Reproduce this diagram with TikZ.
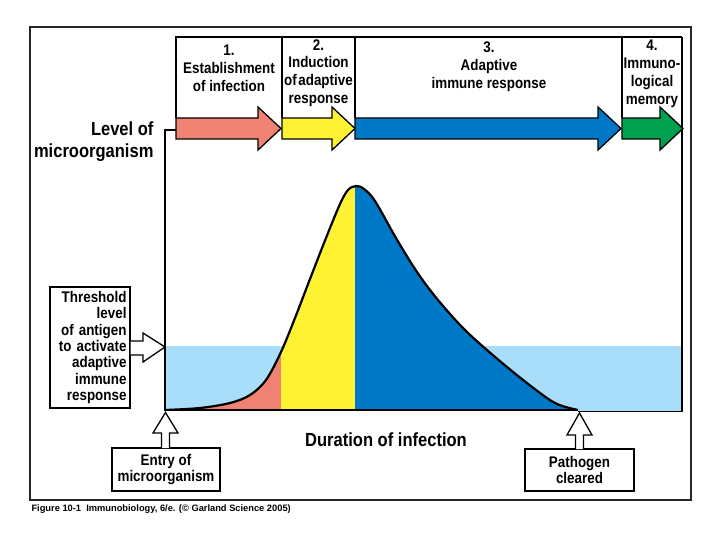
\documentclass[tikz,border=0pt]{standalone}
\usepackage{fontspec}
\setmainfont{Liberation Sans}[FakeStretch=0.87]
\newfontfamily\capfont{Liberation Sans}
\definecolor{cpink}{RGB}{240,130,115}
\definecolor{cyellow}{RGB}{255,242,50}
\definecolor{cblue}{RGB}{0,120,200}
\definecolor{cgreen}{RGB}{0,160,80}
\definecolor{cband}{RGB}{168,222,250}
\newcommand\phasearrow[4]{%
  \filldraw[fill=#4,draw=black,line width=1.3pt,line join=miter]
    (#1,118) -- (#2,118) -- (#2,107) -- (#3,128.5) -- (#2,150) -- (#2,139) -- (#1,139) -- cycle;}
\newcommand\curvepts{plot[smooth,tension=0.55] coordinates {(165,410) (200,408) (230,403) (250,395) (266,380) (281,352) (295,318) (310,279) (326,238) (340,204) (348,190) (356,186) (364,189) (375,201) (396,238) (417,272) (438,300) (466,331) (501,362) (536,390) (557,404) (578,410)}}
\tikzset{
  phase/.style={align=center,font=\bfseries\fontsize{15.4}{17.8}\selectfont},
  lbl/.style={font=\bfseries\fontsize{15.4}{16.4}\selectfont},
  box/.style={draw,line width=1.3pt,fill=white},
  openarrow/.style={draw,line width=1.3pt,fill=white,line join=miter}
}
\begin{document}
\begin{tikzpicture}[x=1pt,y=-1pt]
\useasboundingbox (0,0) rectangle (720,540);
% outer frame
\draw[line width=1.5pt,black!85] (30,27) rectangle (691,500);
% threshold band
\fill[cband] (165,346) rectangle (682,411);
% colored regions under curve
\begin{scope}
  \clip (165,0) rectangle (281,420);
  \fill[cpink] \curvepts -- (165,410) -- cycle;
\end{scope}
\begin{scope}
  \clip (281,0) rectangle (355,420);
  \fill[cyellow] \curvepts -- (165,410) -- cycle;
\end{scope}
\begin{scope}
  \clip (355,0) rectangle (682,420);
  \fill[cblue] \curvepts -- (165,410) -- cycle;
\end{scope}
\draw[line width=2.2pt,line join=round] \curvepts;
\draw[line width=2.2pt] (165,410) -- (578,410);
% band border right and bottom
\draw[line width=1.2pt] (578,411.5) -- (682,411.5) -- (682,37);
% axis and bracket
\draw[line width=1.3pt] (176,130) -- (165,130) -- (165,411);
% phase boxes
\draw[line width=1.3pt] (176,118) -- (176,37) -- (682,37);
\draw[line width=1.3pt] (282,37) -- (282,118);
\draw[line width=1.3pt] (355,37) -- (355,118);
\draw[line width=1.3pt] (622,37) -- (622,118);
\phasearrow{176}{258}{281}{cpink}
\phasearrow{282}{332}{355}{cyellow}
\phasearrow{355}{598}{621}{cblue}
\phasearrow{622}{660}{683}{cgreen}
\node[phase] (t1) at (229,68.5) {1.\\Establishment\\of infection};
\node[phase] (t2) at (318.5,73) {2.\\Induction\\of\hspace{0.1em}adaptive\\response};
\node[phase] (t3) at (489,67) {3.\\Adaptive\\immune response};
\node[phase] (t4) at (652,74) {4.\\Immuno-\\logical\\memory};
% left labels
\node[anchor=east,align=right,font=\bfseries\fontsize{19}{22}\selectfont] (lev) at (157,142) {Level of\\microorganism};
\node[box,lbl,align=right,text width=73pt,inner xsep=3.5pt,minimum height=121pt] (thr) at (90,347.5)
  {Threshold\\level\\of antigen\\to activate\\adaptive\\immune\\response};
\draw[openarrow] (thr.east |- 0,341) -- (143,341) -- (143,333) -- (165,347) -- (143,362) -- (143,355) -- (thr.east |- 0,355);
% bottom boxes
\node[box,lbl,align=center,minimum width=108pt,minimum height=43pt] (entry) at (166,469.5) {Entry of\\microorganism};
\draw[openarrow] (161.5,448) -- (161.5,433) -- (153,433) -- (165.5,412.5) -- (178,433) -- (169.5,433) -- (169.5,448);
\node[box,lbl,align=center,minimum width=109pt,minimum height=42pt] (path) at (579.5,470) {Pathogen\\cleared};
\draw[openarrow] (575.5,449) -- (575.5,435) -- (567,435) -- (579.5,413) -- (592,435) -- (583.5,435) -- (583.5,449);
\node[font=\bfseries\fontsize{19}{22}\selectfont] (dur) at (386,440) {Duration of infection};
\node[anchor=west,font=\capfont\bfseries\fontsize{9.3}{11}\selectfont] (cap) at (28,509) {Figure 10-1\ \ Immunobiology, 6/e. (© Garland Science 2005)};
\end{tikzpicture}
\end{document}
